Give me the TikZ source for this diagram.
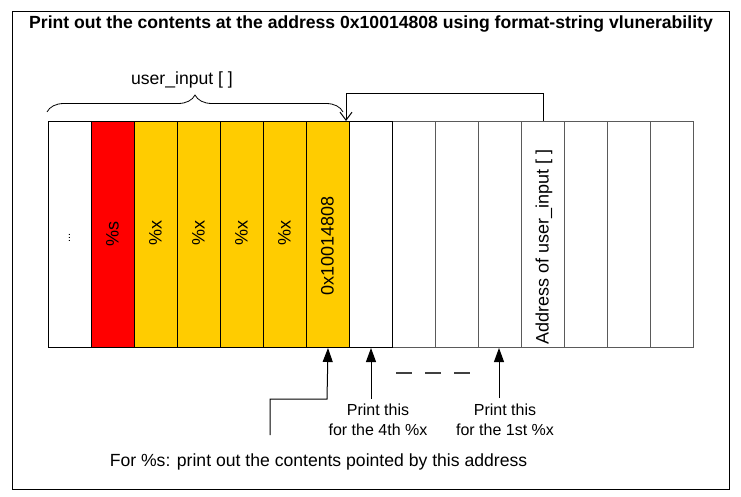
\documentclass[tikz,border=0pt]{standalone}
\usepackage{fontspec}
\setmainfont{Liberation Sans}
\usetikzlibrary{arrows.meta,decorations.pathreplacing}
\definecolor{gold}{HTML}{FFCC00}
\definecolor{cellgray}{HTML}{5A5A5A}
\begin{document}
\begin{tikzpicture}[x=1pt,y=-1pt,
  cell/.style={draw=black, line width=1pt, minimum width=43pt, minimum height=226pt, inner sep=0pt, anchor=north west},
  graycell/.style={cell, draw=cellgray},
  celltext/.style={rotate=90, font=\fontsize{18}{21}\selectfont, inner sep=0pt},
  lbl/.style={font=\fontsize{17.6}{21}\selectfont, inner sep=0pt},
  small/.style={font=\fontsize{16}{19.5}\selectfont, inner sep=0pt, align=center},
  conn/.style={draw=black, line width=1pt},
  fillarrow/.style={conn, -{Triangle[length=14pt,width=10pt]}},
  openarrow/.style={conn, -{Straight Barb[length=8pt,width=12pt]}}
]
\useasboundingbox (0,0) rectangle (741,497);
\node[draw=black, line width=1pt, minimum width=717pt, minimum height=478pt, inner sep=0pt, anchor=north west] (frame) at (12,11) {};
\node[font=\bfseries\fontsize{17.6}{21}\selectfont, inner sep=0pt] (title) at (371,24) {Print out the contents at the address 0x10014808 using format-string vlunerability};

% right cells (gray outline) first
\node[graycell] (c9)  at (392,121) {};
\node[graycell] (c10) at (435,121) {};
\node[graycell] (c11) at (478,121) {};
\node[graycell] (c12) at (521,121) {};
\node[graycell] (c13) at (564,121) {};
\node[graycell] (c14) at (607,121) {};
\node[graycell] (c15) at (650,121) {};
% left cells
\node[cell] (c1) at (48,121) {};
\node[cell, fill=red] (c2) at (91,121) {};
\node[cell, fill=gold] (c3) at (134,121) {};
\node[cell, fill=gold] (c4) at (177,121) {};
\node[cell, fill=gold] (c5) at (220,121) {};
\node[cell, fill=gold] (c6) at (263,121) {};
\node[cell, fill=gold] (c7) at (306,121) {};
\node[cell] (c8) at (349,121) {};

\node[celltext, font=\fontsize{11}{13}\selectfont] (t1) at (69.5,238) {...};
\node[celltext] (t2) at (112.5,234) {\%s};
\node[celltext] (t3) at (155.5,233) {\%x};
\node[celltext] (t4) at (198.5,233) {\%x};
\node[celltext] (t5) at (241.5,233) {\%x};
\node[celltext] (t6) at (284.5,233) {\%x};
\node[celltext] (t7) at (327.5,246) {0x10014808};
\node[celltext] (t12) at (544,247) {Address of user\_input [ ]};

% brace
\coordinate (bl) at (47,112);
\coordinate (br) at (343,112);
\draw[line width=0.8pt, decorate, decoration={brace, amplitude=17pt}] (bl) -- (br);
\node[lbl] (ui) at (182,80) {user\_input [ ]};

% pointer arrow
\coordinate (pb) at (346,94);
\draw[openarrow] (c12.north) |- (pb) -- (pb |- c8.north);

% bottom arrows
\coordinate (s0) at (270,435);
\coordinate (s1) at (327,399);
\draw[fillarrow] (s0) |- (s1) -- (c7.south);
\coordinate (p4) at (371,399);
\draw[fillarrow] (p4) -- (p4 |- c8.south);
\coordinate (p1) at (499,398);
\draw[fillarrow] (p1) -- (p1 |- c11.south);
\coordinate (d0) at (396,373);
\coordinate (d1) at (478,373);
\draw[line width=1.2pt, draw=black!75, dash pattern=on 16pt off 13pt] (d0) -- (d1);

\node[small] (n4) at (378,420) {Print this\\for the 4th \%x};
\node[small] (n1) at (505,420) {Print this\\for the 1st \%x};
\node[lbl] (bot) at (318.5,462) {For \%s: print out the contents pointed by this address};
\end{tikzpicture}
\end{document}
